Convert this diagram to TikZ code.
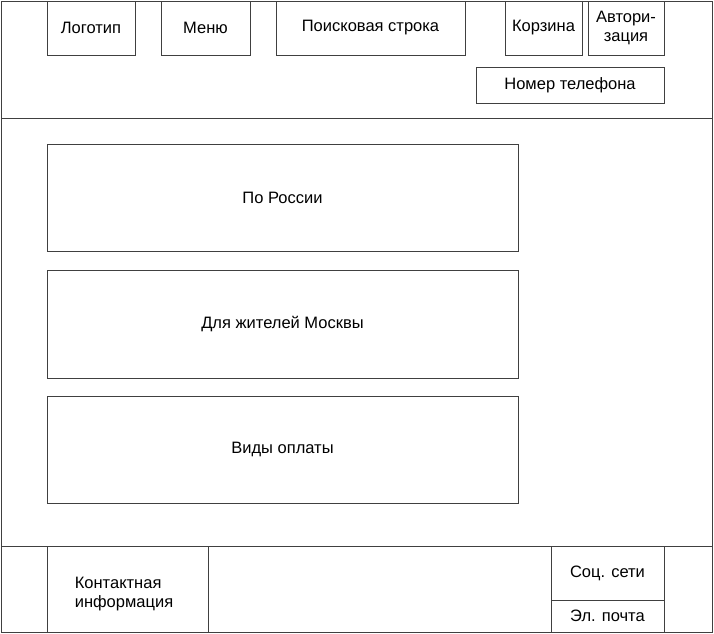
\documentclass[tikz,border=0pt]{standalone}
\usepackage{fontspec}
\setmainfont{Liberation Sans}
\usetikzlibrary{positioning}

\tikzset{
  blk/.style={draw=black!75, line width=0.8bp, inner sep=0pt, align=center,
    font=\fontsize{16.5bp}{19bp}\selectfont},
  frame/.style={draw=black!75, line width=0.8bp}
}

\begin{document}
\begin{tikzpicture}[x=1bp, y=-1bp]
  \useasboundingbox (0,0) rectangle (714,634);
  % outer page
  \draw [frame] (1,1) rectangle (712,632);
  \coordinate (hl) at (1,118);
  \coordinate (hr) at (712,118);
  \coordinate (fl) at (1,546);
  \coordinate (fr) at (712,546);
  \draw [frame] (hl) -- (hr);
  \draw [frame] (fl) -- (fr);

  % header
  \node [blk, minimum width=88bp, minimum height=54bp] (logo) at (91,28) {Логотип};
  \node [blk, minimum width=89bp, minimum height=54bp] (menu) at (205.5,28) {Меню};
  \node [blk, minimum width=189bp, minimum height=54bp] (search) at (370.5,28) {Поисковая строка};
  \node [blk, minimum width=77bp, minimum height=54bp] (cart) at (543.5,28) {Корзина};
  \node [blk, minimum width=76bp, minimum height=54bp] (auth) at (626,28) {Автори-\\зация};
  \node [blk, minimum width=188bp, minimum height=36bp] (phone) at (570,85) {Номер телефона};

  % content
  \node [blk, minimum width=471bp, minimum height=107bp] (russia) at (282.5,197.5) {По России};
  \node [blk, minimum width=471bp, minimum height=108bp] (moscow) at (282.5,324) {Для жителей Москвы};
  \node [blk, minimum width=471bp, minimum height=107bp] (payment) at (282.5,449.5) {Виды оплаты};

  % footer
  \node [blk, minimum width=161bp, minimum height=86bp] (contact) at (127.5,589) {};
  \node [blk, align=left, draw=none] (contacttxt) at (124,594) {Контактная\\информация};
  \node [blk, minimum width=343bp, minimum height=86bp] (blank) at (379.5,589) {};
  \node [blk, minimum width=113bp, minimum height=54bp] (social) at (607.5,573) {Соц. сети};
  \node [blk, minimum width=113bp, minimum height=32bp] (mail) at (607.5,616) {Эл. почта};
\end{tikzpicture}
\end{document}
